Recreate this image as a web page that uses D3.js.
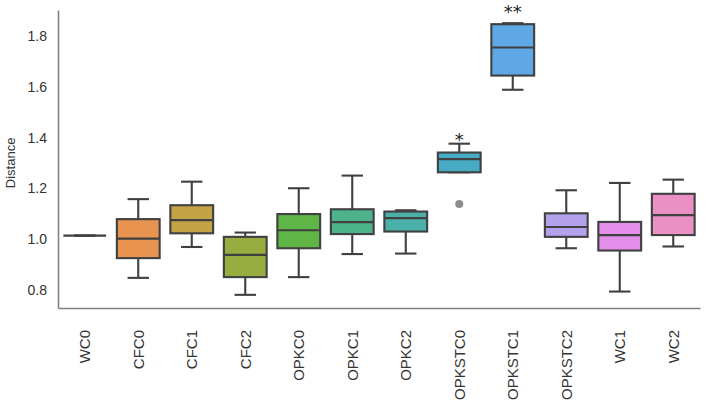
<!DOCTYPE html>
<html>
<head>
<meta charset="utf-8">
<script src="https://cdn.jsdelivr.net/npm/d3@7"></script>
<style>
  html, body { margin: 0; padding: 0; background: #fff; }
  svg { display: block; }
</style>
</head>
<body>
<div id="chart"></div>
<script>
// Distance per condition
const categories = ['WC0', 'CFC0', 'CFC1', 'CFC2', 'OPKC0', 'OPKC1', 'OPKC2', 'OPKSTC0', 'OPKSTC1', 'OPKSTC2', 'WC1', 'WC2'];
const whiskerLow = [1.013, 0.846, 0.968, 0.779, 0.849, 0.940, 0.942, 1.263, 1.589, 0.963, 0.792, 0.970];
const q1 = [1.013, 0.924, 1.022, 0.849, 0.963, 1.019, 1.029, 1.263, 1.645, 1.008, 0.954, 1.015];
const medians = [1.013, 1.001, 1.074, 0.937, 1.034, 1.066, 1.082, 1.315, 1.756, 1.047, 1.015, 1.094];
const q3 = [1.013, 1.078, 1.133, 1.008, 1.098, 1.117, 1.108, 1.341, 1.848, 1.101, 1.067, 1.178];
const whiskerHigh = [1.013, 1.157, 1.226, 1.025, 1.200, 1.250, 1.113, 1.376, 1.852, 1.192, 1.221, 1.234];
const outliers = [[], [], [], [], [], [], [], [1.138], [], [], [], []];
// significance marks and the value level they sit at
const marks = ['', '', '', '', '', '', '', '*', '**', '', '', ''];
const markLevel = [0, 0, 0, 0, 0, 0, 0, 1.408, 1.912, 0, 0, 0];
const yTicks = [0.8, 1.0, 1.2, 1.4, 1.6, 1.8];

const colors = ['#ef7f8f', '#e8934f', '#c3a345', '#98ad40', '#5fb545', '#4cb38b',
  '#4ab0a8', '#47abc3', '#5ea8e6', '#b4a2ec', '#e38ee8', '#ea90c5'];

const width = 708;
const height = 411;
const margin = { top: 10, right: 8, bottom: 103, left: 58 };
const lineColor = '#404040';
const lw = 2.1;
const font = '"Liberation Sans", Arial, sans-serif';

const svg = d3.select('#chart')
  .append('svg')
  .attr('width', width)
  .attr('height', height);

const x = d3.scaleBand()
  .domain(categories)
  .range([margin.left, width - margin.right])
  .padding(0);

const y = d3.scaleLinear()
  .domain([0.727, 1.904])
  .range([height - margin.bottom, margin.top]);

const boxW = x.bandwidth() * 0.8;
const capW = boxW / 2;

// axes
svg.append('g')
  .attr('transform', `translate(${margin.left},0)`)
  .call(d3.axisLeft(y).tickValues(yTicks).tickFormat(d3.format('.1f')).tickSize(0).tickPadding(11))
  .call((g) => g.select('.domain').attr('stroke', '#808080').attr('stroke-width', 1.6))
  .call((g) => g.selectAll('.tick text').attr('font-size', 14).attr('font-family', font).attr('fill', '#333'));

svg.append('g')
  .attr('transform', `translate(0,${height - margin.bottom})`)
  .call(d3.axisBottom(x).tickSize(0).tickPadding(0))
  .call((g) => g.select('.domain').attr('stroke', '#808080').attr('stroke-width', 1.6))
  .call((g) => g.selectAll('.tick text')
    .attr('font-size', 15)
    .attr('font-family', font)
    .attr('fill', '#333')
    .attr('text-anchor', 'end')
    .attr('transform', 'rotate(-90)')
    .attr('x', -22)
    .attr('y', 0)
    .attr('dy', '0.35em'));

svg.append('text')
  .attr('transform', `translate(15,${y(1.3)}) rotate(-90)`)
  .attr('text-anchor', 'middle')
  .attr('font-size', 13)
  .attr('font-family', font)
  .attr('fill', '#333')
  .text('Distance');

// boxes
const groups = svg.append('g')
  .selectAll('g')
  .data(categories)
  .join('g')
  .attr('transform', (d) => `translate(${x(d) + x.bandwidth() / 2},0)`);

groups.append('line')
  .attr('y1', (d, i) => y(whiskerLow[i]))
  .attr('y2', (d, i) => y(q1[i]))
  .attr('stroke', lineColor).attr('stroke-width', lw);

groups.append('line')
  .attr('y1', (d, i) => y(q3[i]))
  .attr('y2', (d, i) => y(whiskerHigh[i]))
  .attr('stroke', lineColor).attr('stroke-width', lw);

groups.append('line')
  .attr('x1', -capW / 2).attr('x2', capW / 2)
  .attr('y1', (d, i) => y(whiskerLow[i]))
  .attr('y2', (d, i) => y(whiskerLow[i]))
  .attr('stroke', lineColor).attr('stroke-width', lw);

groups.append('line')
  .attr('x1', -capW / 2).attr('x2', capW / 2)
  .attr('y1', (d, i) => y(whiskerHigh[i]))
  .attr('y2', (d, i) => y(whiskerHigh[i]))
  .attr('stroke', lineColor).attr('stroke-width', lw);

groups.append('rect')
  .attr('x', -boxW / 2)
  .attr('width', boxW)
  .attr('y', (d, i) => y(q3[i]))
  .attr('height', (d, i) => y(q1[i]) - y(q3[i]))
  .attr('fill', (d, i) => colors[i])
  .attr('stroke', lineColor)
  .attr('stroke-width', lw);

groups.append('line')
  .attr('x1', -boxW / 2).attr('x2', boxW / 2)
  .attr('y1', (d, i) => y(medians[i]))
  .attr('y2', (d, i) => y(medians[i]))
  .attr('stroke', lineColor).attr('stroke-width', lw);

groups.selectAll('circle')
  .data((d, i) => outliers[i])
  .join('circle')
  .attr('cy', (v) => y(v))
  .attr('r', 4)
  .attr('fill', '#8c8c8c');

// significance stars
groups.filter((d, i) => marks[i] !== '')
  .append('text')
  .attr('y', (d) => y(markLevel[categories.indexOf(d)]) + 10)
  .attr('text-anchor', 'middle')
  .attr('font-size', 18)
  .attr('font-family', '"DejaVu Sans", sans-serif')
  .attr('fill', '#222')
  .text((d) => marks[categories.indexOf(d)]);
</script>
</body>
</html>
